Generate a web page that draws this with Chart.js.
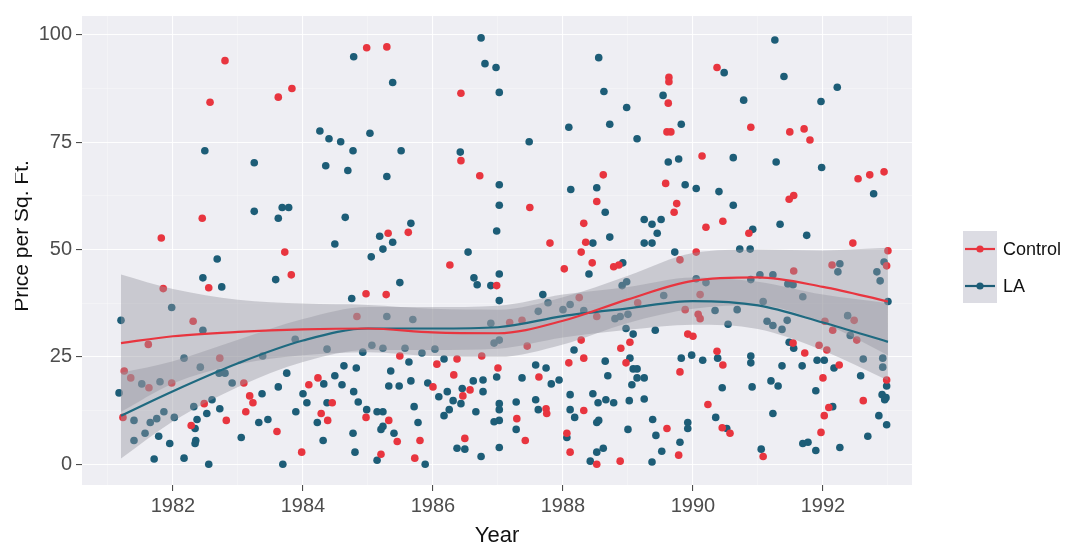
<!DOCTYPE html>
<html lang="en">
<head>
    <meta charset="UTF-8">
    <title>Price per Sq. Ft. by Year</title>
    <script src="https://cdn.jsdelivr.net/npm/chart.js"></script>
    <style>
        body {
            margin: 0;
            background: #ffffff;
        }
        #wrap {
            position: relative;
            width: 1067px;
            height: 544px;
        }
    </style>
</head>
<body>
<div id="wrap">
    <canvas id="priceChart" width="1067" height="544"></canvas>
</div>

<script>
    // Control group points
    const controlYears = [
        1982.80, 1982.57, 1983.62, 1983.83, 1982.45, 1981.82, 1983.72,
        1984.98, 1985.29, 1986.43, 1986.43, 1986.72, 1988.62, 1988.52, 1987.49, 1985.31, 1985.62, 1988.32, 1987.80, 1988.35, 1988.28,
        1990.37, 1989.63, 1989.63, 1989.62, 1990.89, 1989.60, 1989.66, 1991.49, 1991.71, 1991.80, 1990.14, 1992.54, 1992.72, 1992.94,
        1989.58, 1989.75, 1989.71, 1991.48, 1991.55, 1990.20, 1990.46, 1990.86, 1992.46, 1990.05, 1993.00,
        1983.82, 1982.55, 1981.85, 1982.31, 1984.83, 1981.62, 1982.72, 1981.25, 1981.35, 1981.63, 1981.98, 1983.09, 1984.23,
        1984.09, 1983.18, 1983.23, 1983.12, 1982.48, 1981.23, 1982.28, 1982.82, 1984.28, 1984.45, 1984.38, 1983.60, 1983.98,
        1986.26, 1988.02, 1988.45, 1988.78, 1988.86, 1986.98, 1984.97, 1985.28, 1988.25, 1988.52, 1987.18, 1987.37, 1988.28,
        1987.45, 1985.49, 1986.37, 1986.06, 1986.75, 1987.00, 1986.00, 1986.32, 1987.63, 1988.09, 1988.32, 1988.89, 1988.97,
        1984.97, 1985.32, 1985.45, 1985.20, 1985.80, 1985.72, 1986.46, 1986.57, 1986.49, 1987.29, 1987.42, 1987.74, 1987.75,
        1988.32, 1988.06, 1988.11, 1988.52, 1988.88,
        1989.80, 1992.14, 1992.98, 1991.55, 1990.11, 1989.15, 1989.88, 1990.08, 1990.11, 1992.03, 1992.48, 1992.15, 1992.52,
        1989.03, 1989.92, 1990.00, 1990.37, 1990.46, 1989.80, 1991.54, 1991.72, 1991.94, 1992.06, 1992.25, 1992.00, 1992.98,
        1992.62, 1990.23, 1992.09, 1992.02, 1990.45, 1990.57, 1989.60, 1991.97, 1989.78, 1991.08
    ];
    const controlPrice = [
        94.0, 84.3, 85.5, 87.5, 57.3, 52.7, 49.4,
        97.0, 97.2, 86.4, 70.7, 67.2, 67.4, 61.2, 59.8, 53.8, 54.0, 56.1, 51.5, 51.7, 49.4,
        92.4, 90.1, 89.1, 84.1, 78.5, 77.4, 77.4, 77.4, 78.1, 75.5, 71.8, 66.5, 67.4, 68.1,
        65.4, 60.7, 58.7, 61.7, 62.6, 55.2, 56.6, 53.8, 51.5, 49.4, 49.7,
        44.1, 41.1, 40.9, 33.3, 34.4, 27.9, 24.7, 21.7, 20.1, 17.8, 18.9, 18.9, 20.1,
        18.5, 15.9, 14.3, 12.2, 14.1, 10.9, 9.0, 10.2, 11.8, 14.3, 10.2, 7.6, 2.8,
        46.4, 45.5, 46.9, 46.0, 46.4, 41.6, 39.7, 39.5, 38.8, 34.4, 33.0, 33.5, 28.9,
        27.5, 25.2, 24.5, 23.3, 25.2, 22.4, 18.0, 20.8, 20.3, 23.6, 24.7, 27.0, 23.6,
        10.9, 10.2, 5.3, 2.3, 5.5, 1.4, 15.9, 17.3, 6.0, 10.6, 5.5, 12.9, 11.8,
        12.5, 7.2, 2.8, 0.0, 0.7,
        47.6, 46.4, 46.2, 45.0, 39.5, 37.6, 36.0, 34.9, 33.9, 33.3, 33.5, 31.2, 28.9,
        28.4, 30.3, 29.8, 26.3, 23.1, 21.5, 28.2, 25.9, 27.7, 26.6, 23.1, 20.1, 19.6,
        14.8, 13.9, 13.2, 11.3, 8.5, 7.2, 8.3, 7.4, 2.1, 1.8
    ];

    // LA group points
    const laYears = [
        1984.78, 1984.26, 1984.40, 1984.58, 1984.77, 1982.49, 1983.25, 1984.35, 1984.69, 1983.25, 1983.68, 1983.78, 1983.62, 1984.65, 1984.49,
        1986.74, 1986.80, 1986.97, 1985.38, 1987.02, 1988.55, 1988.63, 1988.98, 1988.72, 1988.09, 1985.03, 1987.48, 1985.51, 1986.42,
        1985.29, 1987.02, 1988.52, 1988.12, 1987.02, 1988.65, 1985.66, 1985.18, 1985.38, 1985.23, 1986.98, 1988.46, 1988.72, 1986.54,
        1991.26, 1990.48, 1991.40, 1992.22, 1989.54, 1990.78, 1991.97, 1989.82, 1989.14, 1990.62, 1989.62, 1989.78, 1991.28, 1991.98,
        1989.88, 1990.05, 1990.40, 1992.78, 1990.62, 1989.25, 1989.37, 1989.51, 1989.45, 1991.34, 1990.92, 1991.75, 1989.25, 1989.37,
        1989.72, 1990.72, 1990.88,
        1982.68, 1982.46, 1982.75, 1983.58, 1984.75, 1981.98, 1981.20, 1982.46, 1982.17, 1983.38, 1983.88, 1984.37, 1982.42,
        1981.52, 1981.80, 1982.71, 1982.80, 1982.91, 1983.62, 1983.75, 1984.32, 1984.49, 1984.63, 1984.82, 1984.60, 1984.78,
        1981.17, 1983.37, 1982.60, 1982.72, 1982.32, 1982.52, 1982.37, 1982.02, 1981.86, 1981.75, 1981.65, 1981.40, 1981.57,
        1981.40, 1982.34, 1983.32, 1983.46, 1984.00, 1984.06, 1983.89, 1984.37, 1984.22, 1981.78, 1981.95, 1982.35, 1982.34,
        1983.05, 1984.31, 1984.77, 1984.80, 1981.71, 1982.17, 1982.55, 1983.69,
        1985.05, 1988.40, 1985.49, 1986.63, 1986.68, 1986.89, 1987.02, 1987.02, 1987.69, 1987.77, 1988.11, 1988.00, 1988.32,
        1987.62, 1988.91, 1988.98, 1988.88, 1988.80, 1985.29, 1985.69, 1986.89, 1986.94, 1987.02, 1984.92, 1985.06, 1985.23,
        1985.57, 1985.83, 1986.03, 1985.63, 1986.17, 1988.92, 1985.35, 1985.32, 1985.48, 1985.66, 1985.92, 1986.62, 1986.77,
        1986.98, 1987.37, 1987.58, 1987.74, 1987.82, 1987.94, 1988.17, 1988.65, 1988.69, 1984.85, 1984.98, 1985.14, 1985.23,
        1985.23, 1985.20, 1985.40, 1985.14, 1985.71, 1985.77, 1985.88, 1986.09, 1986.22, 1986.31, 1986.45, 1986.43, 1986.25,
        1986.17, 1986.66, 1986.77, 1987.02, 1987.02, 1987.02, 1986.94, 1986.37, 1986.49, 1986.74, 1987.02, 1987.28, 1987.28,
        1987.58, 1987.62, 1988.11, 1988.11, 1988.18, 1988.06, 1988.46, 1988.54, 1988.66, 1988.78, 1988.52, 1988.55, 1988.52,
        1988.62, 1988.42, 1989.00, 1989.02,
        1992.26, 1992.23, 1992.94, 1992.83, 1992.88, 1991.03, 1991.23, 1990.89, 1990.05, 1990.20, 1991.46, 1991.54, 1991.69,
        1989.55, 1990.34, 1990.68, 1991.08, 1991.14, 1991.23, 1991.45, 1989.00, 1992.38, 1992.42, 1992.62, 1992.92, 1992.92,
        1993.00, 1988.97, 1989.42, 1989.08, 1989.03, 1990.54, 1990.38, 1989.98, 1989.82, 1990.15, 1990.89, 1990.89, 1991.37,
        1991.48, 1991.55, 1991.91, 1992.02, 1991.37, 1991.68, 1992.17, 1989.08, 1989.14, 1989.14, 1989.25, 1989.06, 1989.25,
        1990.45, 1990.91, 1991.20, 1991.31, 1992.58, 1992.98, 1991.89, 1992.91, 1992.97, 1992.95, 1991.23, 1992.15, 1989.38,
        1990.35, 1989.92, 1989.92, 1990.52, 1992.86, 1992.98, 1989.43, 1992.69, 1989.80, 1989.52, 1991.05, 1991.69, 1991.77,
        1991.89, 1992.26, 1989.37
    ];
    const laPrice = [
        94.9, 77.6, 75.8, 75.1, 73.0, 73.0, 70.2, 69.5, 68.4, 58.9, 59.8, 59.8, 57.3, 57.5, 51.3,
        99.3, 93.3, 92.4, 88.9, 86.6, 94.7, 86.8, 83.1, 79.2, 78.5, 77.1, 75.1, 73.0, 72.7,
        67.0, 65.1, 64.4, 64.0, 60.3, 58.7, 56.1, 53.1, 51.7, 50.1, 54.3, 51.5, 52.9, 49.4,
        98.8, 91.2, 90.3, 87.8, 85.9, 84.8, 84.5, 79.2, 75.8, 71.4, 70.4, 71.1, 70.4, 69.1,
        65.1, 64.2, 63.5, 63.0, 60.3, 57.0, 55.9, 57.0, 53.8, 55.9, 54.7, 53.3, 51.5, 51.5,
        49.4, 50.1, 50.1,
        47.8, 43.4, 41.3, 43.0, 38.6, 36.5, 33.5, 31.2, 24.7, 25.2, 29.1, 26.8, 22.6,
        18.7, 19.2, 21.2, 21.2, 18.9, 18.0, 21.2, 18.7, 20.6, 22.9, 22.4, 18.5, 16.9,
        16.6, 16.4, 15.0, 12.9, 13.4, 11.8, 10.4, 10.9, 12.2, 10.6, 9.7, 10.2, 7.2,
        5.5, 8.3, 9.7, 10.4, 16.4, 14.3, 12.2, 14.3, 9.7, 6.5, 4.8, 5.5, 4.8,
        6.2, 5.5, 7.2, 2.8, 1.2, 1.4, 0.0, 0.0,
        48.3, 44.3, 42.3, 43.4, 41.8, 41.6, 44.3, 38.1, 39.5, 37.6, 37.2, 36.0, 35.8,
        35.6, 41.6, 42.5, 34.4, 33.9, 34.4, 33.7, 32.8, 28.2, 28.9, 26.1, 27.7, 27.0,
        27.0, 25.9, 26.8, 23.8, 24.5, 46.9, 21.7, 18.2, 18.2, 19.4, 18.9, 19.4, 19.6,
        20.3, 20.1, 23.1, 22.4, 18.7, 19.6, 26.6, 24.0, 20.6, 14.5, 12.7, 12.2, 12.2,
        8.8, 8.1, 7.2, 0.9, 13.4, 9.7, 0.0, 15.7, 16.9, 14.8, 17.6, 14.1, 12.7,
        11.3, 12.2, 16.9, 14.1, 12.7, 10.2, 9.9, 3.7, 3.5, 1.8, 3.9, 14.5, 8.1,
        15.0, 12.7, 16.2, 12.7, 10.9, 6.2, 16.4, 14.3, 15.0, 14.3, 9.7, 10.2, 2.8,
        3.7, 0.7, 8.1, 14.8,
        46.7, 44.8, 47.1, 44.8, 42.7, 44.1, 44.1, 43.0, 43.2, 42.3, 42.0, 41.8, 39.0,
        39.3, 35.8, 36.0, 37.9, 33.3, 32.3, 33.5, 34.9, 34.6, 30.0, 24.5, 24.7, 22.6,
        37.9, 31.6, 31.2, 30.3, 24.7, 32.6, 24.7, 25.4, 24.7, 24.2, 25.2, 23.6, 31.4,
        28.4, 27.0, 24.2, 24.2, 22.9, 22.9, 22.4, 22.2, 22.2, 20.1, 20.1, 18.5, 15.2,
        17.8, 18.0, 19.4, 18.2, 20.6, 18.2, 17.1, 16.2, 15.5, 15.0, 11.8, 13.4, 10.4,
        10.9, 9.7, 8.3, 8.3, 11.3, 9.2, 6.7, 6.5, 5.1, 3.0, 3.5, 4.8, 5.1,
        3.2, 3.9, 0.5
    ];

    // loess fits and their 95% bands
    const fitYears    = [1981.2, 1982, 1983, 1984, 1985, 1986, 1987, 1988, 1989, 1990, 1991, 1992, 1993];
    const controlFit  = [28.2, 29.8, 30.8, 31.4, 31.6, 30.7, 30.5, 33.4, 38.4, 42.7, 43.5, 41.3, 37.9];
    const controlHigh = [44.2, 40.8, 38.3, 37.4, 37.1, 36.2, 36.0, 38.9, 43.9, 49.2, 50.0, 49.8, 50.4];
    const controlLow  = [12.2, 18.8, 23.3, 25.4, 26.1, 25.2, 25.0, 27.9, 32.9, 36.2, 37.0, 32.8, 25.4];
    const laFit       = [11.3, 17.0, 23.5, 28.8, 31.6, 31.6, 31.9, 34.5, 36.3, 38.0, 37.0, 33.0, 28.5];
    const laHigh      = [21.3, 24.0, 29.0, 33.8, 36.6, 36.6, 36.9, 39.5, 41.3, 43.5, 42.5, 39.5, 37.5];
    const laLow       = [1.3, 10.0, 18.0, 23.8, 26.6, 26.6, 26.9, 29.5, 31.3, 32.5, 31.5, 26.5, 19.5];

    // axis ticks (majors labelled, minors only gridded)
    const xTickYears = [1981, 1982, 1983, 1984, 1985, 1986, 1987, 1988, 1989, 1990, 1991, 1992, 1993];
    const yTickValues = [0, 12.5, 25, 37.5, 50, 62.5, 75, 87.5, 100];

    const RED = "#e8353f";
    const BLUE = "#1d5d77";
    const BAND = "rgba(150, 150, 160, 0.42)";
    const FONT = "'Liberation Sans', Arial, sans-serif";

    const pts = (xs, ys) => xs.map((x, i) => ({ x: x, y: ys[i] }));

    const panelBg = {
        id: "panelBg",
        beforeDraw(chart) {
            const { ctx, chartArea: a } = chart;
            ctx.save();
            ctx.fillStyle = "#eeeef3";
            ctx.fillRect(a.left, a.top, a.right - a.left, a.bottom - a.top);
            ctx.restore();
        }
    };

    // axis titles and the legend, drawn ggplot style
    const extras = {
        id: "extras",
        afterDraw(chart) {
            const { ctx, chartArea: a } = chart;
            ctx.save();
            ctx.fillStyle = "#111";
            ctx.font = "22px " + FONT;
            ctx.textAlign = "center";
            ctx.textBaseline = "alphabetic";
            ctx.fillText("Year", (a.left + a.right) / 2, 542);

            // the reference crops the top of the y title slightly
            ctx.save();
            ctx.beginPath();
            ctx.rect(15, 0, 60, 544);
            ctx.clip();
            ctx.translate(28, 236);
            ctx.rotate(-Math.PI / 2);
            ctx.font = "21px " + FONT;
            ctx.fillText("Price per Sq. Ft.", 0, 0);
            ctx.restore();

            const items = [{ label: "Control", color: RED, y: 249 }, { label: "LA", color: BLUE, y: 286 }];
            ctx.fillStyle = "#dcdce3";
            ctx.fillRect(963, 231, 34, 72);
            items.forEach(it => {
                ctx.strokeStyle = it.color;
                ctx.lineWidth = 2.2;
                ctx.beginPath();
                ctx.moveTo(965, it.y);
                ctx.lineTo(995, it.y);
                ctx.stroke();
                ctx.fillStyle = it.color;
                ctx.beginPath();
                ctx.arc(980, it.y, 3.6, 0, Math.PI * 2);
                ctx.fill();
                ctx.fillStyle = "#111";
                ctx.font = "18px " + FONT;
                ctx.textAlign = "left";
                ctx.textBaseline = "middle";
                ctx.fillText(it.label, 1003, it.y + 1);
                ctx.fillStyle = "#dcdce3";
            });
            ctx.restore();
        }
    };

    const isMajorX = v => v % 2 === 0;
    const isMajorY = v => v % 25 === 0;

    const ctx = document.getElementById("priceChart").getContext("2d");
    new Chart(ctx, {
        type: "scatter",
        data: {
            datasets: [
                {
                    type: "line", label: "Control fit", data: pts(fitYears, controlFit),
                    borderColor: RED, borderWidth: 2.2, pointRadius: 0, fill: false,
                    cubicInterpolationMode: "monotone", order: 0
                },
                {
                    type: "line", label: "LA fit", data: pts(fitYears, laFit),
                    borderColor: "#1f6a80", borderWidth: 2.2, pointRadius: 0, fill: false,
                    cubicInterpolationMode: "monotone", order: 0
                },
                {
                    type: "line", label: "Control hi", data: pts(fitYears, controlHigh),
                    borderColor: "rgba(0,0,0,0)", pointRadius: 0, fill: false,
                    cubicInterpolationMode: "monotone", order: 1
                },
                {
                    type: "line", label: "Control lo", data: pts(fitYears, controlLow),
                    borderColor: "rgba(0,0,0,0)", backgroundColor: BAND, pointRadius: 0, fill: "-1",
                    cubicInterpolationMode: "monotone", order: 1
                },
                {
                    type: "line", label: "LA hi", data: pts(fitYears, laHigh),
                    borderColor: "rgba(0,0,0,0)", pointRadius: 0, fill: false,
                    cubicInterpolationMode: "monotone", order: 1
                },
                {
                    type: "line", label: "LA lo", data: pts(fitYears, laLow),
                    borderColor: "rgba(0,0,0,0)", backgroundColor: BAND, pointRadius: 0, fill: "-1",
                    cubicInterpolationMode: "monotone", order: 1
                },
                {
                    label: "Control", data: pts(controlYears, controlPrice),
                    backgroundColor: RED, borderColor: RED, borderWidth: 0, pointRadius: 3.8, order: 2
                },
                {
                    label: "LA", data: pts(laYears, laPrice),
                    backgroundColor: BLUE, borderColor: BLUE, borderWidth: 0, pointRadius: 3.8, order: 2
                }
            ]
        },
        options: {
            responsive: false,
            animation: false,
            devicePixelRatio: 1,
            layout: { padding: { left: 0, right: 155, top: 12, bottom: 0 } },
            plugins: {
                legend: { display: false },
                tooltip: { enabled: false }
            },
            scales: {
                x: {
                    type: "linear",
                    min: 1980.6,
                    max: 1993.37,
                    afterBuildTicks: s => { s.ticks = xTickYears.map(v => ({ value: v })); },
                    afterFit: s => { s.height = 59; },
                    border: { display: false },
                    grid: {
                        color: c => isMajorX(c.tick.value) ? "rgba(255,255,255,0.9)" : "rgba(255,255,255,0.5)",
                        lineWidth: c => isMajorX(c.tick.value) ? 1.1 : 0.6,
                        tickColor: c => isMajorX(c.tick.value) ? "#4d4d4d" : "rgba(0,0,0,0)",
                        tickLength: 6
                    },
                    ticks: {
                        autoSkip: false,
                        maxRotation: 0,
                        padding: 3,
                        color: "#4d4d4d",
                        font: { family: FONT, size: 20 },
                        callback: v => isMajorX(v) ? String(v) : ""
                    }
                },
                y: {
                    min: -4.85,
                    max: 104.4,
                    afterBuildTicks: s => { s.ticks = yTickValues.map(v => ({ value: v })); },
                    afterFit: s => { s.width = 82; },
                    border: { display: false },
                    grid: {
                        color: c => isMajorY(c.tick.value) ? "rgba(255,255,255,0.9)" : "rgba(255,255,255,0.5)",
                        lineWidth: c => isMajorY(c.tick.value) ? 1.1 : 0.6,
                        tickColor: c => isMajorY(c.tick.value) ? "#4d4d4d" : "rgba(0,0,0,0)",
                        tickLength: 6
                    },
                    ticks: {
                        autoSkip: false,
                        padding: 4,
                        color: "#4d4d4d",
                        font: { family: FONT, size: 20 },
                        callback: v => isMajorY(v) ? String(v) : ""
                    }
                }
            }
        },
        plugins: [panelBg, extras]
    });
</script>
</body>
</html>
